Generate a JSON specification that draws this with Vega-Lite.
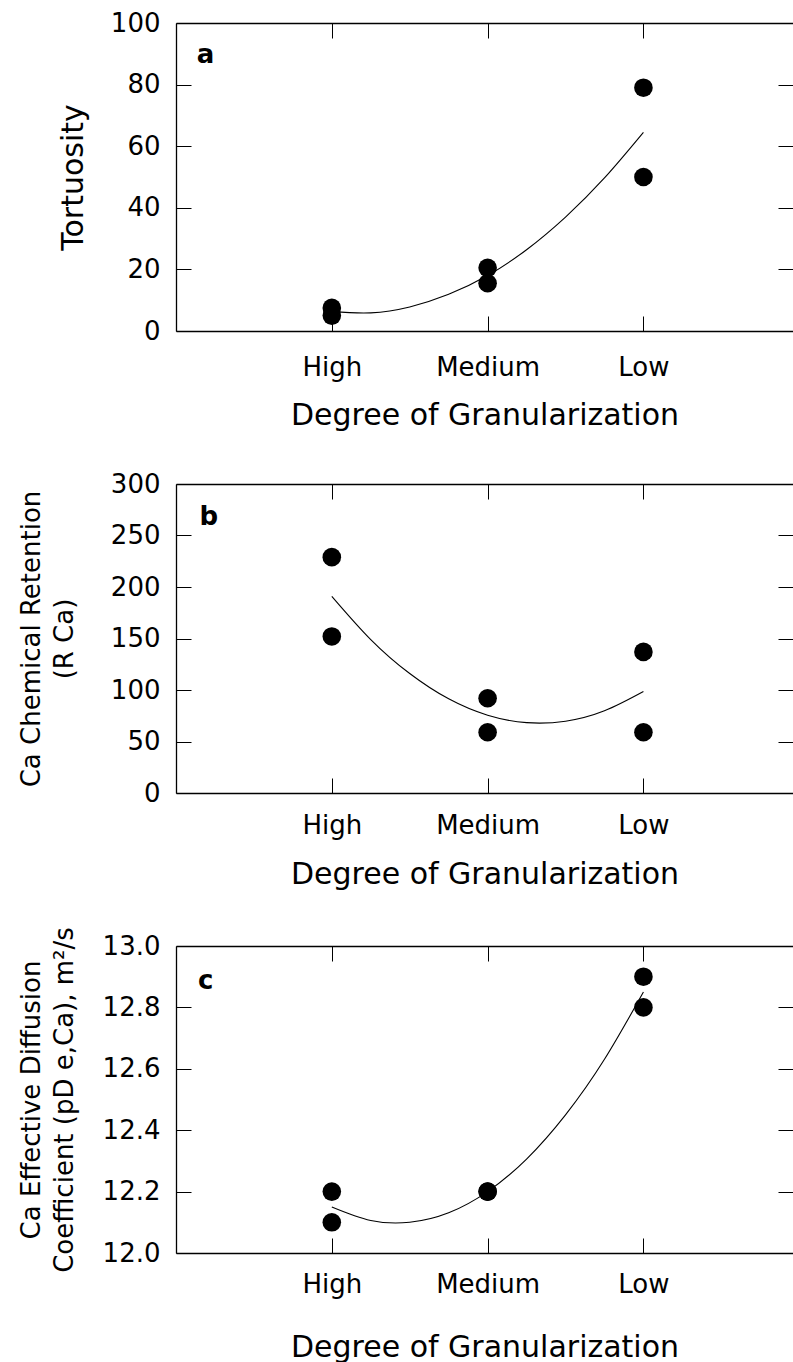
{
  "$schema": "https://vega.github.io/schema/vega-lite/v6.json",
  "background": "white",
  "padding": {"left": 18, "top": 10, "right": 0, "bottom": 0},
  "spacing": 153,
  "bounds": "flush",
  "datasets": {
    "pa": [{"g": 1, "v": 7.5}, {"g": 1, "v": 5}, {"g": 2, "v": 20.5}, {"g": 2, "v": 15.5}, {"g": 3, "v": 79}, {"g": 3, "v": 50}],
    "ca": [{"g": 1, "v": 6.3}, {"g": 1.25, "v": 5.9}, {"g": 1.5, "v": 7.8}, {"g": 1.75, "v": 11.9}, {"g": 2, "v": 18}, {"g": 2.25, "v": 26.4}, {"g": 2.5, "v": 37}, {"g": 2.75, "v": 49.7}, {"g": 3, "v": 64.5}],
    "la": [{"g": 0.19, "v": 89.6, "t": "a"}],
    "pb": [{"g": 1, "v": 229}, {"g": 1, "v": 152}, {"g": 2, "v": 92}, {"g": 2, "v": 59}, {"g": 3, "v": 137}, {"g": 3, "v": 59}],
    "cb": [{"g": 1, "v": 191}, {"g": 1.25, "v": 149}, {"g": 1.5, "v": 116}, {"g": 1.75, "v": 91.4}, {"g": 2, "v": 75.5}, {"g": 2.25, "v": 68.3}, {"g": 2.5, "v": 69.7}, {"g": 2.75, "v": 79.8}, {"g": 3, "v": 98.5}],
    "lb": [{"g": 0.21, "v": 268, "t": "b"}],
    "pc": [{"g": 1, "v": 12.2}, {"g": 1, "v": 12.1}, {"g": 2, "v": 12.2}, {"g": 2, "v": 12.2}, {"g": 3, "v": 12.9}, {"g": 3, "v": 12.8}],
    "cc": [{"g": 1, "v": 12.15}, {"g": 1.25, "v": 12.106}, {"g": 1.5, "v": 12.1}, {"g": 1.75, "v": 12.131}, {"g": 2, "v": 12.2}, {"g": 2.25, "v": 12.306}, {"g": 2.5, "v": 12.45}, {"g": 2.75, "v": 12.631}, {"g": 3, "v": 12.85}],
    "lc": [{"g": 0.19, "v": 12.885, "t": "c"}]
  },
  "config": {
    "view": {"stroke": null},
    "axis": {
      "domainColor": "black", "tickColor": "black", "labelColor": "black", "titleColor": "black",
      "labelFont": "DejaVu Sans", "titleFont": "DejaVu Sans", "titleFontWeight": "normal",
      "grid": false, "domainWidth": 1.3, "tickWidth": 1, "labelFontSize": 26, "tickSize": -15,
      "labelFlush": false, "labelOverlap": false
    }
  },
  "vconcat": [
    {
      "width": 617, "height": 308,
      "layer": [
        {
          "data": {"name": "pa"},
          "mark": {"type": "circle", "size": 346, "color": "black", "opacity": 1},
          "encoding": {
            "x": {"field": "g", "type": "quantitative", "scale": {"domain": [0, 3.96], "nice": false},
              "axis": {"orient": "bottom", "values": [1, 2, 3], "labelExpr": "datum.value == 1 ? 'High' : datum.value == 2 ? 'Medium' : 'Low'", "labelPadding": 38, "title": "Degree of Granularization", "titleFontSize": 30, "titlePadding": 20}},
            "y": {"field": "v", "type": "quantitative", "scale": {"domain": [0, 100], "nice": false},
              "axis": {"orient": "left", "values": [0, 20, 40, 60, 80, 100], "labelPadding": 31, "title": "Tortuosity", "titleFontSize": 30, "titlePadding": 22}}
          }
        },
        {
          "data": {"name": "ca"},
          "mark": {"type": "line", "color": "black", "strokeWidth": 1.1, "interpolate": "natural"},
          "encoding": {
            "x": {"field": "g", "type": "quantitative", "scale": {"domain": [0, 3.96], "nice": false},
              "axis": {"orient": "top", "values": [1, 2, 3], "labels": false, "title": null}},
            "y": {"field": "v", "type": "quantitative", "scale": {"domain": [0, 100], "nice": false},
              "axis": {"orient": "right", "values": [0, 20, 40, 60, 80, 100], "labels": false, "domain": false, "title": null}}
          }
        },
        {
          "data": {"name": "la"},
          "mark": {"type": "text", "font": "DejaVu Sans", "fontWeight": "bold", "fontSize": 26, "color": "black"},
          "encoding": {
            "x": {"field": "g", "type": "quantitative", "axis": null},
            "y": {"field": "v", "type": "quantitative", "axis": null},
            "text": {"field": "t"}
          }
        }
      ],
      "resolve": {"axis": {"x": "independent", "y": "independent"}}
    },
    {
      "width": 617, "height": 309,
      "layer": [
        {
          "data": {"name": "pb"},
          "mark": {"type": "circle", "size": 346, "color": "black", "opacity": 1},
          "encoding": {
            "x": {"field": "g", "type": "quantitative", "scale": {"domain": [0, 3.96], "nice": false},
              "axis": {"orient": "bottom", "values": [1, 2, 3], "labelExpr": "datum.value == 1 ? 'High' : datum.value == 2 ? 'Medium' : 'Low'", "labelPadding": 34, "title": "Degree of Granularization", "titleFontSize": 30, "titlePadding": 21}},
            "y": {"field": "v", "type": "quantitative", "scale": {"domain": [0, 300], "nice": false},
              "axis": {"orient": "left", "values": [0, 50, 100, 150, 200, 250, 300], "labelPadding": 31, "title": ["Ca Chemical Retention", "(R Ca)"], "titleFontSize": 26, "titleLineHeight": 33, "titlePadding": 33}}
          }
        },
        {
          "data": {"name": "cb"},
          "mark": {"type": "line", "color": "black", "strokeWidth": 1.1, "interpolate": "natural"},
          "encoding": {
            "x": {"field": "g", "type": "quantitative", "scale": {"domain": [0, 3.96], "nice": false},
              "axis": {"orient": "top", "values": [1, 2, 3], "labels": false, "title": null}},
            "y": {"field": "v", "type": "quantitative", "scale": {"domain": [0, 300], "nice": false},
              "axis": {"orient": "right", "values": [0, 50, 100, 150, 200, 250, 300], "labels": false, "domain": false, "title": null}}
          }
        },
        {
          "data": {"name": "lb"},
          "mark": {"type": "text", "font": "DejaVu Sans", "fontWeight": "bold", "fontSize": 26, "color": "black"},
          "encoding": {
            "x": {"field": "g", "type": "quantitative", "axis": null},
            "y": {"field": "v", "type": "quantitative", "axis": null},
            "text": {"field": "t"}
          }
        }
      ],
      "resolve": {"axis": {"x": "independent", "y": "independent"}}
    },
    {
      "width": 617, "height": 307,
      "layer": [
        {
          "data": {"name": "pc"},
          "mark": {"type": "circle", "size": 346, "color": "black", "opacity": 1},
          "encoding": {
            "x": {"field": "g", "type": "quantitative", "scale": {"domain": [0, 3.96], "nice": false},
              "axis": {"orient": "bottom", "values": [1, 2, 3], "labelExpr": "datum.value == 1 ? 'High' : datum.value == 2 ? 'Medium' : 'Low'", "labelPadding": 33, "title": "Degree of Granularization", "titleFontSize": 30, "titlePadding": 35}},
            "y": {"field": "v", "type": "quantitative", "scale": {"domain": [12, 13], "nice": false, "zero": false},
              "axis": {"orient": "left", "values": [12, 12.2, 12.4, 12.6, 12.8, 13], "format": ".1f", "labelPadding": 31, "title": ["Ca Effective Diffusion", "Coefficient (pD e,Ca), m²/s"], "titleFontSize": 26, "titleLineHeight": 33, "titlePadding": 25}}
          }
        },
        {
          "data": {"name": "cc"},
          "mark": {"type": "line", "color": "black", "strokeWidth": 1.1, "interpolate": "natural"},
          "encoding": {
            "x": {"field": "g", "type": "quantitative", "scale": {"domain": [0, 3.96], "nice": false},
              "axis": {"orient": "top", "values": [1, 2, 3], "labels": false, "title": null}},
            "y": {"field": "v", "type": "quantitative", "scale": {"domain": [12, 13], "nice": false, "zero": false},
              "axis": {"orient": "right", "values": [12, 12.2, 12.4, 12.6, 12.8, 13], "labels": false, "domain": false, "title": null}}
          }
        },
        {
          "data": {"name": "lc"},
          "mark": {"type": "text", "font": "DejaVu Sans", "fontWeight": "bold", "fontSize": 26, "color": "black"},
          "encoding": {
            "x": {"field": "g", "type": "quantitative", "axis": null},
            "y": {"field": "v", "type": "quantitative", "axis": null},
            "text": {"field": "t"}
          }
        }
      ],
      "resolve": {"axis": {"x": "independent", "y": "independent"}}
    }
  ]
}
